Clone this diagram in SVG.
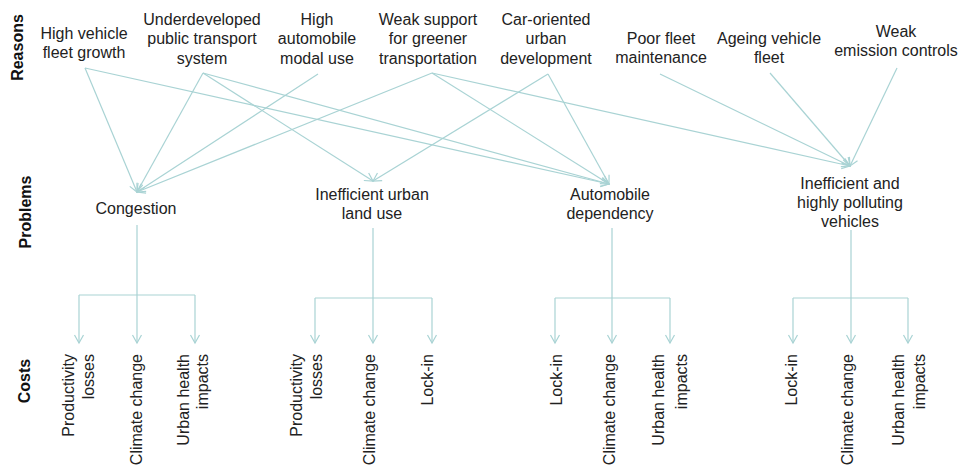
<svg xmlns="http://www.w3.org/2000/svg" width="962" height="470" viewBox="0 0 962 470">
<style>
text{font-family:"Liberation Sans",Arial,sans-serif;font-size:16px;fill:#222}
.m{text-anchor:middle}
.e{text-anchor:end}
.lbl{font-weight:bold;fill:#111;text-anchor:middle}
.c{stroke:#a9d3d4;stroke-width:1.2;fill:none}
.a{marker-end:url(#arr)}
</style>
<defs>
<marker id="arr" viewBox="-10 -6 12 12" markerWidth="12" markerHeight="12" refX="0" refY="0" orient="auto" markerUnits="userSpaceOnUse">
<path d="M-8,-4.5 L0,0 L-8,4.5" fill="none" stroke="#a9d3d4" stroke-width="1.2"/>
</marker>
</defs>
<rect width="962" height="470" fill="#fff"/>

<g id="section-labels">
<text class="lbl" transform="translate(23,47.5) rotate(-90)">Reasons</text>
<text class="lbl" transform="translate(31,212) rotate(-90)">Problems</text>
<text class="lbl" transform="translate(30,381) rotate(-90)">Costs</text>
</g>

<g id="connectors">
<line class="c a" x1="85" y1="68" x2="137" y2="192"/>
<line class="c a" x1="85" y1="68" x2="609" y2="184"/>
<line class="c a" x1="203" y1="73" x2="137" y2="192"/>
<line class="c a" x1="203" y1="73" x2="373" y2="181"/>
<line class="c a" x1="203" y1="73" x2="609" y2="184"/>
<line class="c a" x1="318" y1="74" x2="137" y2="192"/>
<line class="c a" x1="432" y1="73" x2="137" y2="192"/>
<line class="c a" x1="432" y1="73" x2="609" y2="184"/>
<line class="c a" x1="432" y1="73" x2="850" y2="166"/>
<line class="c a" x1="548" y1="74" x2="373" y2="181"/>
<line class="c a" x1="548" y1="74" x2="609" y2="184"/>
<line class="c a" x1="660" y1="74" x2="850" y2="166"/>
<line class="c a" x1="770" y1="73" x2="850" y2="166"/>
<line class="c a" x1="897" y1="68" x2="850" y2="166"/>

<path class="c" d="M137,225 V295 M79,295 H195"/>
<line class="c a" x1="79" y1="295" x2="79" y2="343"/>
<line class="c a" x1="137" y1="295" x2="137" y2="343"/>
<line class="c a" x1="195" y1="295" x2="195" y2="343"/>

<path class="c" d="M373,228 V298 M315,298 H432"/>
<line class="c a" x1="315" y1="298" x2="315" y2="343"/>
<line class="c a" x1="373" y1="298" x2="373" y2="343"/>
<line class="c a" x1="432" y1="298" x2="432" y2="343"/>

<path class="c" d="M612,228 V298 M555,298 H670"/>
<line class="c a" x1="555" y1="298" x2="555" y2="343"/>
<line class="c a" x1="612" y1="298" x2="612" y2="343"/>
<line class="c a" x1="670" y1="298" x2="670" y2="343"/>

<path class="c" d="M851,230 V298 M793,298 H908"/>
<line class="c a" x1="793" y1="298" x2="793" y2="343"/>
<line class="c a" x1="851" y1="298" x2="851" y2="343"/>
<line class="c a" x1="908" y1="298" x2="908" y2="343"/>
</g>

<g id="reason-fleet-growth"><text class="m" x="84" y="38.5">High vehicle</text><text class="m" x="84" y="58">fleet growth</text></g>
<g id="reason-public-transport"><text class="m" x="202" y="24.5">Underdeveloped</text><text class="m" x="202" y="44">public transport</text><text class="m" x="202" y="63.5">system</text></g>
<g id="reason-modal-use"><text class="m" x="317" y="24.5">High</text><text class="m" x="317" y="44">automobile</text><text class="m" x="317" y="63.5">modal use</text></g>
<g id="reason-greener"><text class="m" x="428" y="24.5">Weak support</text><text class="m" x="428" y="44">for greener</text><text class="m" x="428" y="63.5">transportation</text></g>
<g id="reason-car-oriented"><text class="m" x="546" y="24.5">Car-oriented</text><text class="m" x="546" y="44">urban</text><text class="m" x="546" y="63.5">development</text></g>
<g id="reason-maintenance"><text class="m" x="661" y="43.5">Poor fleet</text><text class="m" x="661" y="63">maintenance</text></g>
<g id="reason-ageing"><text class="m" x="769" y="43.5">Ageing vehicle</text><text class="m" x="769" y="63">fleet</text></g>
<g id="reason-emission"><text class="m" x="896" y="36.5">Weak</text><text class="m" x="896" y="56">emission controls</text></g>

<g id="problem-congestion"><text class="m" x="136" y="213.5">Congestion</text></g>
<g id="problem-land-use"><text class="m" x="372" y="199.5">Inefficient urban</text><text class="m" x="372" y="219">land use</text></g>
<g id="problem-dependency"><text class="m" x="610" y="199.5">Automobile</text><text class="m" x="610" y="219">dependency</text></g>
<g id="problem-polluting"><text class="m" x="850" y="188.5">Inefficient and</text><text class="m" x="850" y="208">highly polluting</text><text class="m" x="850" y="227">vehicles</text></g>

<g id="cost-congestion-productivity"><text class="e" transform="translate(73.5,354) rotate(-90)">Productivity</text><text class="e" transform="translate(93.5,354) rotate(-90)">losses</text></g>
<g id="cost-congestion-climate"><text class="e" transform="translate(141.5,354) rotate(-90)">Climate change</text></g>
<g id="cost-congestion-health"><text class="e" transform="translate(188.5,354) rotate(-90)">Urban health</text><text class="e" transform="translate(207.5,354) rotate(-90)">impacts</text></g>

<g id="cost-landuse-productivity"><text class="e" transform="translate(301.5,354) rotate(-90)">Productivity</text><text class="e" transform="translate(321.5,354) rotate(-90)">losses</text></g>
<g id="cost-landuse-climate"><text class="e" transform="translate(375,354) rotate(-90)">Climate change</text></g>
<g id="cost-landuse-lockin"><text class="e" transform="translate(433,354) rotate(-90)">Lock-in</text></g>

<g id="cost-dependency-lockin"><text class="e" transform="translate(561.5,354) rotate(-90)">Lock-in</text></g>
<g id="cost-dependency-climate"><text class="e" transform="translate(615,354) rotate(-90)">Climate change</text></g>
<g id="cost-dependency-health"><text class="e" transform="translate(663.5,354) rotate(-90)">Urban health</text><text class="e" transform="translate(686.5,354) rotate(-90)">impacts</text></g>

<g id="cost-polluting-lockin"><text class="e" transform="translate(796.5,354) rotate(-90)">Lock-in</text></g>
<g id="cost-polluting-climate"><text class="e" transform="translate(853,354) rotate(-90)">Climate change</text></g>
<g id="cost-polluting-health"><text class="e" transform="translate(903.5,354) rotate(-90)">Urban health</text><text class="e" transform="translate(925,354) rotate(-90)">impacts</text></g>
</svg>
